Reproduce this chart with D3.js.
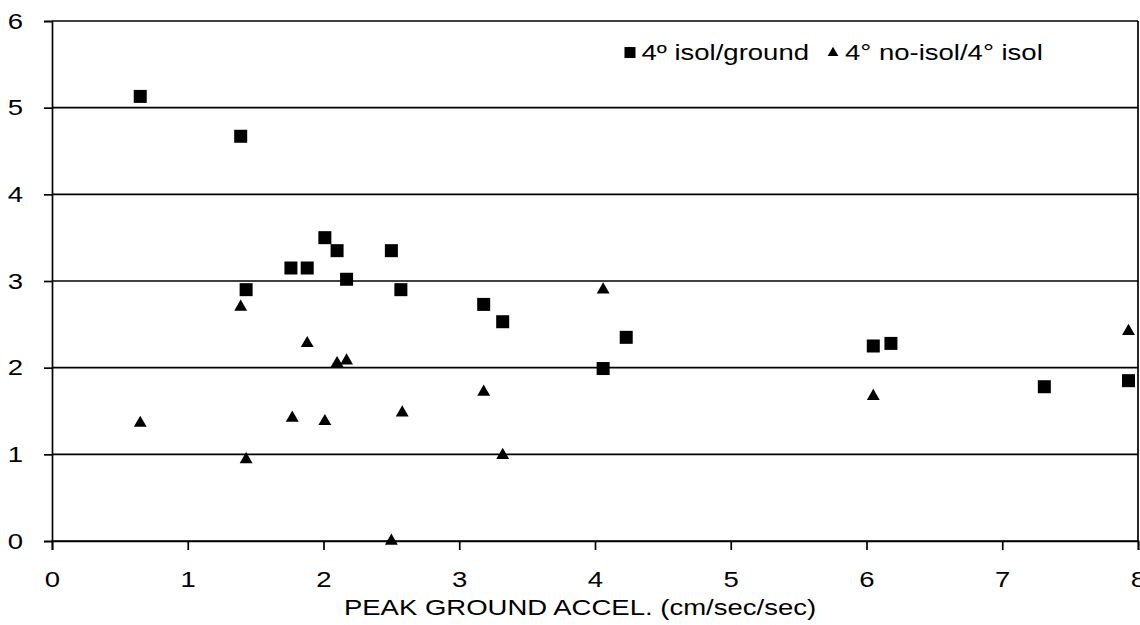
<!DOCTYPE html>
<html>
<head>
<meta charset="utf-8">
<script src="https://cdn.jsdelivr.net/npm/d3@7"></script>
<style>
  body { margin: 0; background: #fff; }
  svg { display: block; font-family: Arial, "Liberation Sans", sans-serif; }
</style>
</head>
<body>
<div id="chart"></div>
<script>
// Ratios
var isolX = [0.65, 1.39, 1.43, 1.76, 1.88, 2.01, 2.10, 2.17, 2.50, 2.57, 3.18, 3.32, 4.06, 4.23, 6.05, 6.18, 7.31, 7.93];
var isolY = [5.13, 4.67, 2.90, 3.15, 3.15, 3.50, 3.35, 3.02, 3.35, 2.90, 2.73, 2.53, 1.99, 2.35, 2.25, 2.28, 1.78, 1.85];
var noIsolX = [0.65, 1.39, 1.43, 1.77, 1.88, 2.01, 2.10, 2.17, 2.50, 2.58, 3.18, 3.32, 4.06, 6.05, 7.93];
var noIsolY = [1.36, 2.70, 0.94, 1.42, 2.28, 1.38, 2.05, 2.08, 0.00, 1.48, 1.72, 0.99, 2.90, 1.67, 2.42];
var xTicks = [0, 1, 2, 3, 4, 5, 6, 7, 8];
var yTicks = [0, 1, 2, 3, 4, 5, 6];
var seriesNames = ["4º isol/ground", "4° no-isol/4° isol"];
var xTitle = "PEAK GROUND ACCEL. (cm/sec/sec)";

var m = {top: 21, right: 2, bottom: 84, left: 52}
  , W = 1140
  , H = 625
  , w = W - m.left - m.right
  , h = H - m.top - m.bottom
  , stretchK = 1.25;

// the scanned lettering is wide, so widen text glyphs a bit
function stretch(sel) {
  sel.each(function() {
    var len = this.getComputedTextLength();
    d3.select(this).attr("textLength", len * stretchK).attr("lengthAdjust", "spacingAndGlyphs");
  });
}

var svg = d3.select("#chart").append("svg")
  .attr("width", W)
  .attr("height", H);
var g = svg.append("g").attr("transform", "translate(" + m.left + "," + m.top + ")");

var x = d3.scaleLinear().domain([0, 8]).range([0, w]);
var y = d3.scaleLinear().domain([0, 6]).range([h, 0]);

// Horizontal grid lines
g.selectAll(".grid").data(yTicks).enter().append("line")
  .attr("x1", 0).attr("x2", w)
  .attr("y1", function(d) { return y(d); })
  .attr("y2", function(d) { return y(d); })
  .style("stroke", "#000").style("stroke-width", 1.7);

// Right border
g.append("line").attr("x1", w).attr("x2", w).attr("y1", 0).attr("y2", h)
  .style("stroke", "#000").style("stroke-width", 1.7);

// Axes
var xAxis = g.append("g").attr("transform", "translate(0," + h + ")")
  .call(d3.axisBottom(x).tickValues(xTicks).tickSize(9).tickPadding(21).tickFormat(d3.format("d")));
var yAxis = g.append("g")
  .call(d3.axisLeft(y).tickValues(yTicks).tickSize(8).tickPadding(21).tickFormat(d3.format("d")));
[xAxis, yAxis].forEach(function(a) {
  a.select(".domain").style("stroke", "#000").style("stroke-width", 1.7);
  a.selectAll(".tick line").style("stroke", "#000").style("stroke-width", 1.7);
  a.selectAll(".tick text").style("font-size", "22px").style("fill", "#000").call(stretch);
});

// X axis title
svg.append("text")
  .attr("x", 580)
  .attr("y", 615)
  .attr("text-anchor", "middle")
  .style("font-size", "22px")
  .text(xTitle)
  .call(stretch);

// Points
var sq = 13;
g.selectAll(".sq").data(d3.zip(isolX, isolY)).enter().append("rect")
  .attr("x", function(d) { return x(d[0]) - sq / 2; })
  .attr("y", function(d) { return y(d[1]) - sq / 2; })
  .attr("width", sq).attr("height", sq)
  .style("fill", "#000");

var tri = d3.symbol().type(d3.symbolTriangle).size(72);
g.selectAll(".tri").data(d3.zip(noIsolX, noIsolY)).enter().append("path")
  .attr("d", tri)
  .attr("transform", function(d) { return "translate(" + x(d[0]) + "," + y(d[1]) + ")"; })
  .style("fill", "#000");

// Legend, laid out from its right-hand item back to the left
var legY = 60
  , triX = 833;
svg.append("path").attr("d", d3.symbol().type(d3.symbolTriangle).size(50))
  .attr("transform", "translate(" + triX + "," + (legY - 7) + ")").style("fill", "#000");
svg.append("text").attr("x", triX + 12).attr("y", legY).style("font-size", "22px")
  .text(seriesNames[1]).call(stretch);
var t1 = svg.append("text").attr("x", triX - 24).attr("y", legY)
  .attr("text-anchor", "end").style("font-size", "22px")
  .text(seriesNames[0]).call(stretch);
var t1w = +t1.attr("textLength");
svg.append("rect").attr("x", triX - 24 - t1w - 17).attr("y", legY - 13)
  .attr("width", 11).attr("height", 11).style("fill", "#000");
</script>
</body>
</html>
